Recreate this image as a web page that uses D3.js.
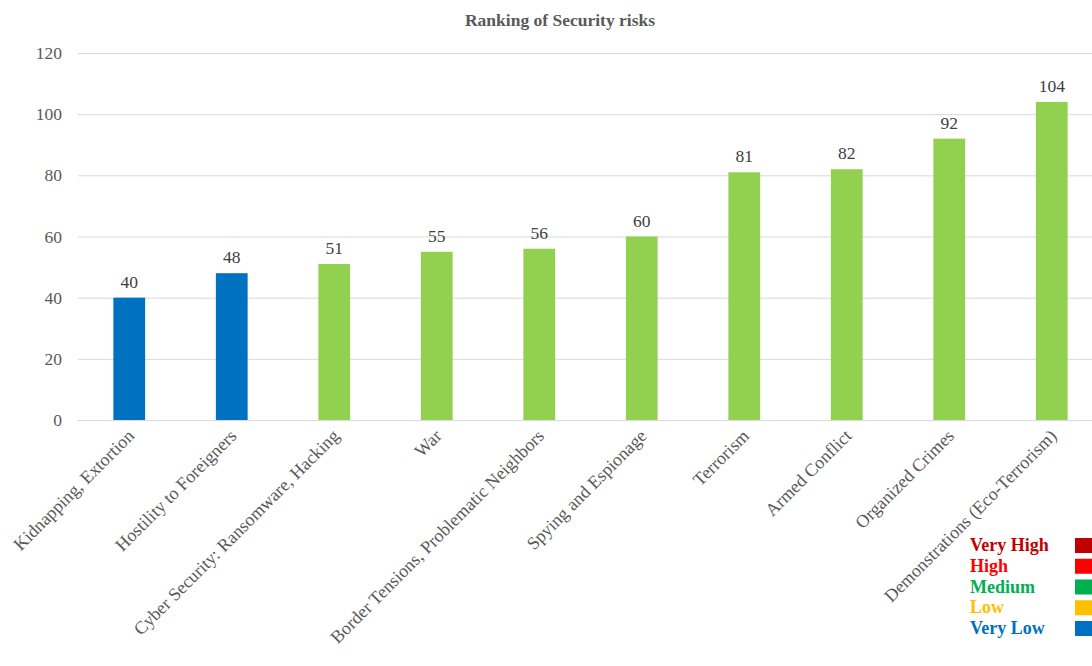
<!DOCTYPE html>
<html><head><meta charset="utf-8">
<script src="https://cdn.jsdelivr.net/npm/d3@7"></script>
<style>body{margin:0;background:#fff;overflow:hidden}svg{display:block}</style>
</head><body>
<svg id="c" width="1092" height="666"></svg>
<script>
const categories = ["Kidnapping, Extortion","Hostility to Foreigners","Cyber Security: Ransomware, Hacking","War","Border Tensions, Problematic Neighbors","Spying and Espionage","Terrorism","Armed Conflict","Organized Crimes","Demonstrations (Eco-Terrorism)"];
const values = [40,48,51,55,56,60,81,82,92,104];
const levels = ["Very Low","Very Low","Medium","Medium","Medium","Medium","Medium","Medium","Medium","Medium"];
const yTicks = [0,20,40,60,80,100,120];
const legendLabels = ["Very High","High","Medium","Low","Very Low"];
const legendColors = ["#C00000","#FF0000","#00B050","#FFC000","#0070C0"];
const barColors = {"Very Low":"#0070C0","Medium":"#92D050"};

const svg = d3.select("#c");
const font = "'Liberation Serif','Times New Roman',serif";
const x = d3.scaleBand().domain(categories).range([78,1103]).paddingInner(0.69).paddingOuter(0.345);
const y = d3.scaleLinear().domain([0,120]).range([420,53]);

svg.append("text").attr("x",560).attr("y",26).attr("text-anchor","middle")
  .attr("font-family",font).attr("font-size",17.5).attr("font-weight","bold").attr("fill","#595959")
  .text("Ranking of Security risks");

const yAxis = svg.append("g").attr("transform","translate(78,0)")
  .call(d3.axisLeft(y).tickValues(yTicks).tickSize(-1030).tickPadding(16));
yAxis.select(".domain").remove();
yAxis.selectAll(".tick line").attr("stroke","#d9d9d9").attr("stroke-width",1);
yAxis.selectAll(".tick text").attr("font-family",font).attr("font-size",17.5).attr("fill","#595959");

svg.append("g").selectAll("rect").data(values).join("rect")
  .attr("x",(d,i)=>x(categories[i])).attr("width",x.bandwidth())
  .attr("y",d=>y(d)).attr("height",d=>y(0)-y(d))
  .attr("fill",(d,i)=>barColors[levels[i]]);

svg.append("g").selectAll("text").data(values).join("text")
  .attr("x",(d,i)=>x(categories[i])+x.bandwidth()/2).attr("y",d=>y(d)-10)
  .attr("text-anchor","middle").attr("font-family",font).attr("font-size",17.5).attr("fill","#404040")
  .text(d=>d);

svg.append("g").selectAll("text").data(categories).join("text")
  .attr("transform",d=>`translate(${x(d)+x.bandwidth()/2+6},${437}) rotate(-45)`)
  .attr("text-anchor","end").attr("font-family",font).attr("font-size",18).attr("fill","#595959")
  .text(d=>d);

const lg = svg.append("g");
legendLabels.forEach((l,i)=>{
  const yy = 545 + i*20.75;
  lg.append("text").attr("x",970).attr("y",yy+6).attr("font-family",font).attr("font-size",18)
    .attr("font-weight","bold").attr("fill",legendColors[i]).text(l);
  lg.append("rect").attr("x",1075).attr("y",yy-7).attr("width",18).attr("height",15).attr("fill",legendColors[i]);
});
</script>
</body></html>
